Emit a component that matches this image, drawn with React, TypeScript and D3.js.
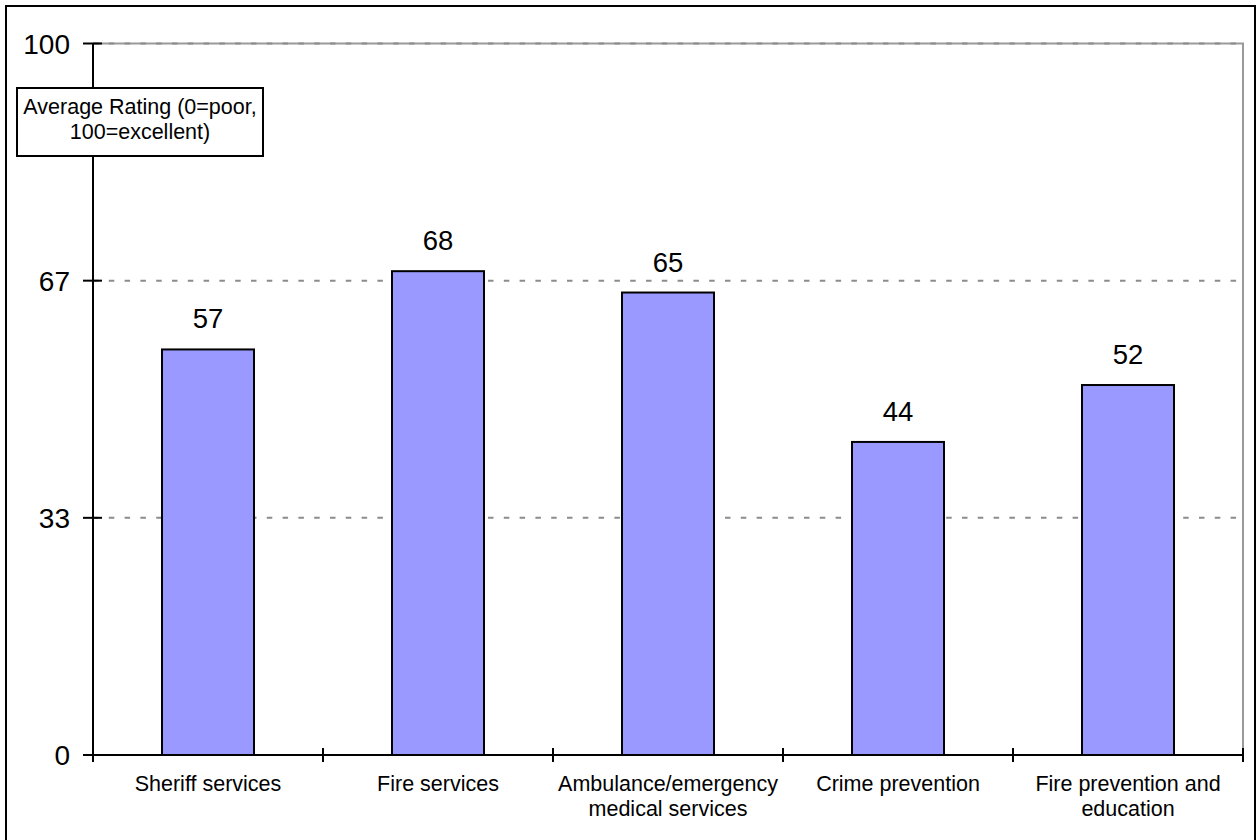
import React, { useEffect, useRef } from "react";
import * as d3 from "d3";

const categories: string[][] = [
  ["Sheriff services"],
  ["Fire services"],
  ["Ambulance/emergency", "medical services"],
  ["Crime prevention"],
  ["Fire prevention and", "education"],
];
const ratings: number[] = [57, 68, 65, 44, 52];
const tickValues: number[] = [0, 100 / 3, 200 / 3, 100];
const axisTitle: string[] = ["Average Rating (0=poor,", "100=excellent)"];

const W = 1257;
const H = 840;
const FONT = "Arial, 'Liberation Sans', Helvetica, sans-serif";

export default function App() {
  const ref = useRef<SVGSVGElement | null>(null);

  useEffect(() => {
    const svg = d3.select(ref.current);
    svg.selectAll("*").remove();

    const left = 93;
    const right = 1243;
    const top = 43.5;
    const bottom = 755;

    const x = d3
      .scaleBand<number>()
      .domain(d3.range(categories.length))
      .range([left, right])
      .paddingInner(0.6)
      .paddingOuter(0.3);
    const y = d3.scaleLinear().domain([0, 100]).range([bottom, top]);

    // outer frame
    svg
      .append("rect")
      .attr("x", 6)
      .attr("y", 6)
      .attr("width", 1249)
      .attr("height", 840)
      .attr("fill", "#fff")
      .attr("stroke", "#000")
      .attr("stroke-width", 2);

    // plot area border (top and right)
    svg
      .append("path")
      .attr("d", `M${left},${y(100)}H${right}V${bottom}`)
      .attr("fill", "none")
      .attr("stroke", "#9a9a9a")
      .attr("stroke-width", 2);

    // dashed gridlines
    svg
      .append("g")
      .selectAll("line")
      .data(tickValues.filter((v) => v > 0))
      .join("line")
      .attr("x1", left)
      .attr("x2", right)
      .attr("y1", (d) => y(d))
      .attr("y2", (d) => y(d))
      .attr("stroke", "#8c8c8c")
      .attr("stroke-width", 2)
      .attr("stroke-dasharray", "5.5 10.3");

    // bars
    svg
      .append("g")
      .selectAll("rect")
      .data(ratings)
      .join("rect")
      .attr("x", (_, i) => x(i)!)
      .attr("y", (d) => y(d))
      .attr("width", x.bandwidth())
      .attr("height", (d) => bottom - y(d))
      .attr("fill", "#9999FF")
      .attr("stroke", "#000")
      .attr("stroke-width", 2);

    // value labels
    svg
      .append("g")
      .selectAll("text")
      .data(ratings)
      .join("text")
      .attr("x", (_, i) => x(i)! + x.bandwidth() / 2)
      .attr("y", (d) => y(d) - 21)
      .attr("text-anchor", "middle")
      .attr("font-family", FONT)
      .attr("font-size", 27.5)
      .attr("fill", "#000")
      .text((d) => d);

    // y axis
    svg
      .append("line")
      .attr("x1", left)
      .attr("x2", left)
      .attr("y1", y(100))
      .attr("y2", bottom)
      .attr("stroke", "#000")
      .attr("stroke-width", 2);
    const yt = svg.append("g");
    yt.selectAll("line")
      .data(tickValues)
      .join("line")
      .attr("x1", left - 10)
      .attr("x2", left + 9)
      .attr("y1", (d) => y(d))
      .attr("y2", (d) => y(d))
      .attr("stroke", "#000")
      .attr("stroke-width", 2);
    yt.selectAll("text")
      .data(tickValues)
      .join("text")
      .attr("x", 70)
      .attr("y", (d) => y(d))
      .attr("dy", "0.36em")
      .attr("text-anchor", "end")
      .attr("font-family", FONT)
      .attr("font-size", 28)
      .attr("fill", "#000")
      .text((d) => d3.format(".0f")(d));

    // x axis
    svg
      .append("line")
      .attr("x1", left)
      .attr("x2", right)
      .attr("y1", bottom)
      .attr("y2", bottom)
      .attr("stroke", "#000")
      .attr("stroke-width", 2);
    const step = x.step();
    const xt = svg.append("g");
    xt.selectAll("line")
      .data(d3.range(categories.length + 1))
      .join("line")
      .attr("x1", (i) => left + i * step)
      .attr("x2", (i) => left + i * step)
      .attr("y1", bottom - 7)
      .attr("y2", bottom + 7)
      .attr("stroke", "#000")
      .attr("stroke-width", 2);
    const cl = xt
      .selectAll("text")
      .data(categories)
      .join("text")
      .attr("text-anchor", "middle")
      .attr("font-family", FONT)
      .attr("font-size", 21.5)
      .attr("fill", "#000");
    cl.each(function (lines, i) {
      const t = d3.select(this);
      const cx = x(i)! + x.bandwidth() / 2;
      lines.forEach((ln, k) => {
        t.append("tspan")
          .attr("x", cx)
          .attr("y", 791 + k * 25)
          .text(ln);
      });
    });

    // axis title box
    svg
      .append("rect")
      .attr("x", 17)
      .attr("y", 88)
      .attr("width", 246)
      .attr("height", 68)
      .attr("fill", "#fff")
      .attr("stroke", "#000")
      .attr("stroke-width", 2);
    const tt = svg
      .append("text")
      .attr("text-anchor", "middle")
      .attr("font-family", FONT)
      .attr("font-size", 21.5)
      .attr("fill", "#000");
    axisTitle.forEach((ln, k) => {
      tt.append("tspan")
        .attr("x", 140)
        .attr("y", 114 + k * 25)
        .text(ln);
    });
  }, []);

  return (
    <svg
      ref={ref}
      width={W}
      height={H}
      style={{ position: "absolute", left: 0, top: 0, background: "#fff" }}
    />
  );
}
